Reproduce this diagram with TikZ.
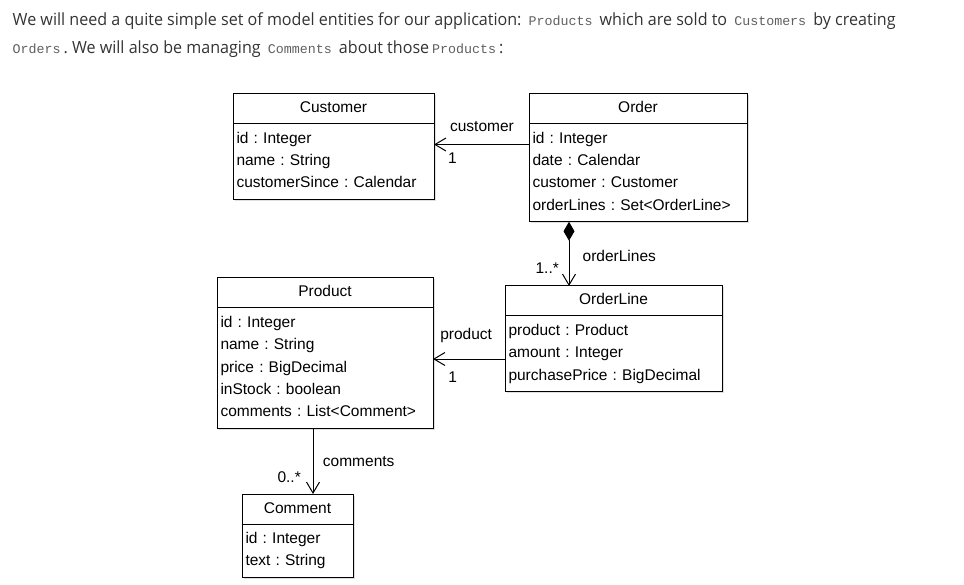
\documentclass[tikz,border=0pt]{standalone}
\usepackage{fontspec}
\setmainfont{Liberation Sans}
\newfontfamily\headfont[FakeStretch=0.958]{Open Sans}
\newfontfamily\codefont{Liberation Mono}
\usetikzlibrary{arrows.meta,positioning,shadows}
\frenchspacing

\definecolor{headgray}{RGB}{51,51,51}
\definecolor{codegray}{RGB}{95,95,95}
\newcommand{\code}[1]{\hspace{3pt}{\codefont\fontsize{13.3}{13.3}\selectfont\color{codegray}#1}\hspace{3pt}}

\tikzset{
  umlfont/.style={font=\fontsize{15.5}{22.25}\selectfont},
  boxshadow/.style={drop shadow={shadow xshift=1.5pt,shadow yshift=-1.5pt,fill=black!25}},
  classhead/.style={draw,fill=white,line width=1pt,outer sep=0pt,umlfont,boxshadow,anchor=north west,
    minimum height=30pt,text height=11pt,text depth=3pt,inner sep=0pt},
  classbody/.style={draw,fill=white,line width=1pt,outer sep=0pt,umlfont,boxshadow,align=left,
    inner xsep=3.5pt,inner ysep=0pt,
    execute at begin node={\rule{0pt}{19.5pt}},
    execute at end node={\rule[-11.5pt]{0pt}{0pt}}},
  assoc/.style={line width=1pt,-{Straight Barb[length=11pt,width=13pt]}},
  compo/.style={line width=1pt,{Diamond[length=19pt,width=11pt]}-{Straight Barb[length=11pt,width=13pt]}},
  rolelabel/.style={umlfont,inner sep=0pt,text height=11pt,text depth=3pt}
}

\begin{document}
\begin{tikzpicture}[x=1pt,y=-1pt]
\useasboundingbox (0,0) rectangle (964,585);
\node[anchor=base west,align=left,inner sep=0pt,text=headgray,
  font=\headfont\fontsize{16.8}{27.3}\selectfont] (intro) at (12.5,53.3)
{We will need a quite simple set of model entities for our application: \code{Products} which are sold to \code{Customers} by creating\\
\hspace{-3pt}\code{Orders}. We will also be managing \code{Comments} about those\code{Products}:};

% classes
\node[classhead,minimum width=201pt] (customer) at (233,94) {Customer};
\node[classbody,text width=194pt] (customerb) [below=0pt of customer]
{id : Integer\\name : String\\customerSince : Calendar};
\node[classhead,minimum width=218pt] (order) at (529,94) {Order};
\node[classbody,text width=211pt] (orderb) [below=0pt of order]
{id : Integer\\date : Calendar\\customer : Customer\\orderLines : Set<OrderLine>};
\node[classhead,minimum width=217pt] (orderline) at (505,286) {OrderLine};
\node[classbody,text width=210pt] (orderlineb) [below=0pt of orderline]
{product : Product\\amount : Integer\\purchasePrice : BigDecimal};
\node[classhead,minimum width=216pt] (product) at (217,278) {Product};
\node[classbody,text width=209pt] (productb) [below=0pt of product]
{id : Integer\\name : String\\price : BigDecimal\\inStock : boolean\\comments : List<Comment>};
\node[classhead,minimum width=111pt] (comment) at (242,494) {Comment};
\node[classbody,text width=104pt] (commentb) [below=0pt of comment]
{id : Integer\\text : String};

% associations
\draw[assoc] ([yshift=-20.5pt]orderb.north west) -- node[rolelabel,pos=0.495,yshift=17pt] {customer} node[rolelabel,pos=0.805,yshift=-15.5pt] {1} ([yshift=-20.5pt]customerb.north east);
\draw[compo] ([xshift=40pt]orderb.south west) -- node[rolelabel,pos=0.558,xshift=50.3pt] {orderLines} node[rolelabel,pos=0.75,xshift=-21.8pt] {1..*} ([xshift=64pt]orderline.north west);
\draw[assoc] ([yshift=-43pt]orderlineb.north west) -- node[rolelabel,pos=0.54,yshift=23.5pt] {product} node[rolelabel,pos=0.728,yshift=-19pt] {1} ([yshift=-51pt]productb.north east);
\draw[assoc] ([xshift=96pt]productb.south west) -- node[rolelabel,pos=0.53,xshift=45.7pt] {comments} node[rolelabel,pos=0.76,xshift=-23.8pt] {0..*} ([xshift=71pt]comment.north west);
\end{tikzpicture}
\end{document}
